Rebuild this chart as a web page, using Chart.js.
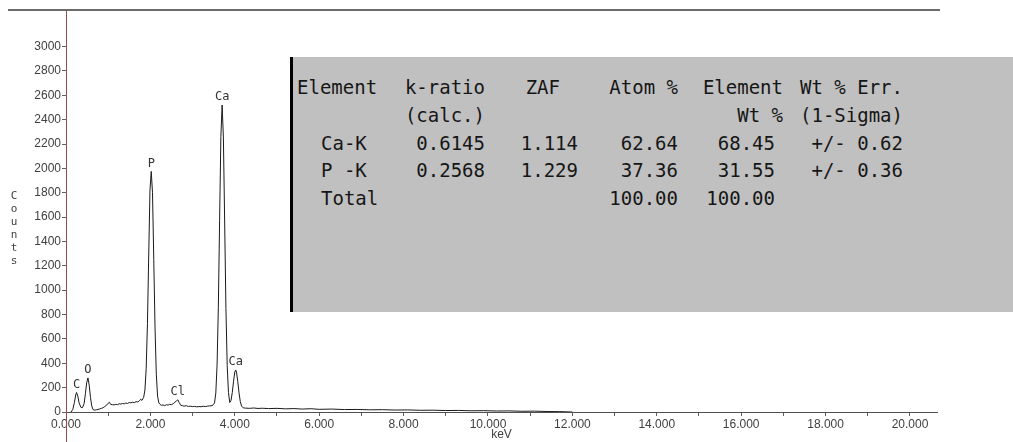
<!DOCTYPE html>
<html>
<head>
<meta charset="utf-8">
<script src="https://cdn.jsdelivr.net/npm/chart.js@4.4.0/dist/chart.umd.min.js"></script>
<style>
  html, body { margin: 0; padding: 0; background: #fff; }
  #wrap { position: relative; width: 1013px; height: 442px; overflow: hidden; }
  #spectrum { position: absolute; left: 0; top: 0; }
  #panel {
    position: absolute; left: 290px; top: 57px; width: 723px; height: 255px;
    background: #c0c0c0; border-left: 3px solid #000; box-sizing: border-box;
    font-family: "DejaVu Sans Mono", monospace; font-size: 19px; color: #161616;
  }
  .cell { position: absolute; white-space: pre; line-height: 20px; }
</style>
</head>
<body>
<div id="wrap">
  <canvas id="spectrum" width="1013" height="442"></canvas>
  <div id="panel"></div>
</div>
<script>
// spectrum
const energyKeV = [0.12, 0.16, 0.20, 0.23, 0.25, 0.28, 0.31, 0.35, 0.39, 0.43, 0.46, 0.49, 0.52, 0.55, 0.58, 0.61, 0.64, 0.68, 0.72, 0.76,
  0.80, 0.84, 0.88, 0.92, 0.96, 1.00, 1.03, 1.06, 1.10, 1.14, 1.18, 1.22, 1.26, 1.30, 1.34, 1.38, 1.42, 1.46, 1.50, 1.54,
  1.58, 1.62, 1.66, 1.70, 1.74, 1.77, 1.80, 1.84, 1.87, 1.90, 1.93, 1.96, 1.99, 2.02, 2.05, 2.08, 2.11, 2.14, 2.17, 2.20,
  2.23, 2.26, 2.30, 2.34, 2.38, 2.42, 2.46, 2.50, 2.54, 2.58, 2.62, 2.65, 2.68, 2.72, 2.76, 2.80, 2.85, 2.90, 2.95, 3.00,
  3.05, 3.10, 3.15, 3.20, 3.25, 3.30, 3.35, 3.40, 3.46, 3.49, 3.52, 3.55, 3.58, 3.61, 3.64, 3.67, 3.70, 3.73, 3.76, 3.79,
  3.82, 3.85, 3.88, 3.91, 3.94, 3.97, 4.00, 4.02, 4.04, 4.07, 4.10, 4.13, 4.16, 4.20, 4.25, 4.35, 4.45, 4.55, 4.65, 4.80,
  5.00, 5.20, 5.40, 5.60, 5.80, 6.00, 6.30, 6.60, 6.90, 7.20, 7.50, 7.80, 8.10, 8.40, 8.70, 9.00, 9.30, 9.60, 9.90, 10.20,
  10.50, 10.80, 11.10, 11.40, 11.70, 12.00];
const counts = [0, 20, 80, 140, 160, 130, 75, 40, 35, 70, 150, 240, 280, 220, 120, 50, 20, 15, 18, 22,
  25, 30, 35, 45, 55, 72, 80, 62, 60, 58, 63, 60, 68, 65, 70, 67, 74, 70, 78, 75,
  80, 77, 85, 82, 92, 105, 95, 120, 180, 355, 725, 1280, 1820, 1975, 1800, 1250, 690, 310, 130, 75,
  62, 55, 58, 52, 60, 56, 64, 60, 68, 80, 92, 100, 78, 55, 52, 48, 52, 45, 48, 44,
  46, 42, 45, 43, 47, 45, 48, 50, 52, 60, 75, 155, 385, 860, 1570, 2260, 2520, 2250, 1560, 850,
  380, 160, 78, 94, 159, 253, 328, 345, 328, 251, 157, 86, 49, 34, 32, 30, 33, 29, 31, 28,
  30, 26, 28, 24, 27, 22, 24, 20, 21, 18, 19, 16, 17, 14, 15, 12, 13, 10, 11, 8,
  9, 6, 7, 4, 3, 0];

// peak markers
const peakNames = ['C', 'O', 'P', 'Cl', 'Ca', 'Ca'];
const peakKeV = [0.25, 0.52, 2.02, 2.65, 3.70, 4.02];
const peakCounts = [160, 280, 1975, 100, 2520, 345];

// axes
const countTicks = [0, 200, 400, 600, 800, 1000, 1200, 1400, 1600, 1800, 2000, 2200, 2400, 2600, 2800, 3000];
const kevTicks = [0, 1, 2, 3, 4, 5, 6, 7, 8, 9, 10, 11, 12, 13, 14, 15, 16, 17, 18, 19, 20];

// quantification table
const tableHead1 = ['Element', 'k-ratio', 'ZAF', 'Atom %', 'Element', 'Wt % Err.'];
const tableHead2 = ['', '(calc.)', '', '', 'Wt %', '(1-Sigma)'];
const tableRows = [
  ['Ca-K', '0.6145', '1.114', '62.64', '68.45', '+/- 0.62'],
  ['P -K', '0.2568', '1.229', '37.36', '31.55', '+/- 0.36'],
  ['Total', '', '', '100.00', '100.00', '']
];

// build the table panel (page x positions, minus panel origin)
const panel = document.getElementById('panel');
const rowY = [87, 115, 143, 170, 198];
const headRight = [null, 485, 560, 678, 783, 903];
const dataRight = [null, 485, 578, 678, 775, 903];
function addCell(text, row, col, isHead) {
    if (!text) return;
    var d = document.createElement('div');
    d.className = 'cell';
    d.textContent = text;
    d.style.top = (rowY[row] - 57 - 10) + 'px';
    if (col === 0) {
        d.style.left = ((isHead ? 297 : 321) - 293) + 'px';
    } else {
        var r = isHead ? headRight[col] : dataRight[col];
        d.style.right = (1013 - r) + 'px';
    }
    panel.appendChild(d);
}
tableHead1.forEach(function (t, c) { addCell(t, 0, c, true); });
tableHead2.forEach(function (t, c) { addCell(t, 1, c, true); });
tableRows.forEach(function (r, i) {
    r.forEach(function (t, c) { addCell(t, i + 2, c, false); });
});

// frame lines, peak labels and the stacked axis title
const decorations = {
    id: 'decorations',
    afterDraw(chart) {
        const ctx = chart.ctx;
        const xs = chart.scales.x, ys = chart.scales.y;
        ctx.save();
        ctx.strokeStyle = '#3a3a3a';
        ctx.lineWidth = 1.5;
        ctx.beginPath();
        ctx.moveTo(8, 10);
        ctx.lineTo(940, 10);
        ctx.stroke();
        ctx.strokeStyle = '#8c5050';
        ctx.lineWidth = 1;
        ctx.beginPath();
        ctx.moveTo(66.5, 10);
        ctx.lineTo(66.5, 442);
        ctx.stroke();

        ctx.fillStyle = '#333';
        ctx.font = '12px "DejaVu Sans Mono", monospace';
        ctx.textAlign = 'center';
        ctx.textBaseline = 'middle';
        for (var i = 0; i < peakNames.length; i++) {
            ctx.fillText(peakNames[i], xs.getPixelForValue(peakKeV[i]), ys.getPixelForValue(peakCounts[i]) - 8);
        }

        ctx.fillStyle = '#404040';
        ctx.font = '11px "DejaVu Sans Mono", monospace';
        var word = 'Counts';
        for (var j = 0; j < word.length; j++) {
            ctx.fillText(word[j], 14, 196 + j * 13);
        }
        ctx.restore();
    }
};

new Chart(document.getElementById('spectrum'), {
    type: 'line',
    data: {
        datasets: [{
            data: energyKeV.map(function (e, i) { return { x: e, y: counts[i] }; }),
            borderColor: '#1a1a1a',
            borderWidth: 1,
            pointRadius: 0,
            tension: 0,
            fill: false
        }]
    },
    options: {
        responsive: false,
        animation: false,
        devicePixelRatio: 1,
        layout: { padding: { left: 0, right: 76, top: 10, bottom: 0 } },
        plugins: { legend: { display: false }, tooltip: { enabled: false } },
        scales: {
            x: {
                type: 'linear',
                min: 0,
                max: 20.64,
                afterFit: function (s) { s.height = 30; },
                afterBuildTicks: function (s) { s.ticks = kevTicks.map(function (v) { return { value: v }; }); },
                ticks: {
                    autoSkip: false, maxRotation: 0, padding: 1, color: '#404040',
                    font: { family: 'Liberation Sans', size: 12 },
                    callback: function (v) { return v % 2 === 0 ? v.toFixed(3) : ''; }
                },
                grid: { drawOnChartArea: false, drawTicks: true, tickLength: 4, color: '#606060' },
                border: { display: true, color: '#505050', width: 1 },
                title: {
                    display: true, text: 'keV', color: '#404040',
                    font: { family: 'Liberation Sans', size: 12 }, padding: { top: 0, bottom: 0 }
                }
            },
            y: {
                min: 0,
                max: 3300,
                afterFit: function (s) { s.width = 66; },
                afterBuildTicks: function (s) { s.ticks = countTicks.map(function (v) { return { value: v }; }); },
                ticks: {
                    padding: 1, color: '#404040',
                    font: { family: 'Liberation Sans', size: 12 },
                    callback: function (v) { return String(v); }
                },
                grid: { drawOnChartArea: false, drawTicks: true, tickLength: 4, color: '#606060' },
                border: { display: false }
            }
        }
    },
    plugins: [decorations]
});
</script>
</body>
</html>
